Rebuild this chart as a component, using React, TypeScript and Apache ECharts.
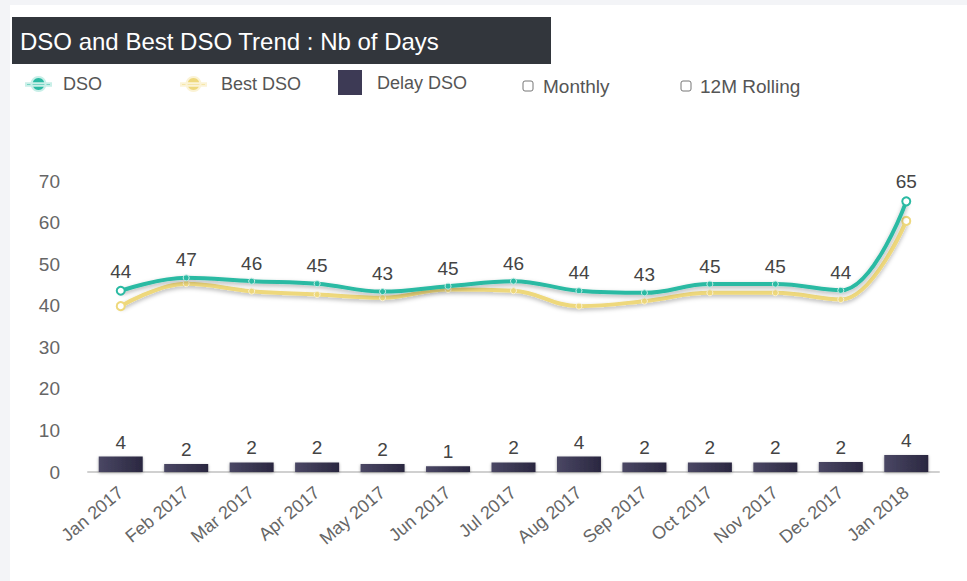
import React, { useEffect, useRef } from "react";
import * as echarts from "echarts";

const categories = [
  "Jan 2017", "Feb 2017", "Mar 2017", "Apr 2017", "May 2017", "Jun 2017", "Jul 2017",
  "Aug 2017", "Sep 2017", "Oct 2017", "Nov 2017", "Dec 2017", "Jan 2018",
];
const dso = [43.6, 46.7, 45.9, 45.3, 43.4, 44.7, 45.9, 43.6, 43.1, 45.2, 45.2, 43.7, 65.1];
const bestDso = [39.9, 45.3, 43.5, 42.7, 41.9, 43.9, 43.6, 39.9, 41.1, 43.1, 43.1, 41.5, 60.4];
const delayDso = [3.7, 1.9, 2.3, 2.3, 1.9, 1.4, 2.3, 3.7, 2.3, 2.3, 2.3, 2.4, 4.1];
const yTicks = { min: 0, max: 70, interval: 10 };

const FONT = "'Liberation Sans', Arial, sans-serif";
const TEAL = "#2bbaa3";
const YELLOW = "#eed87c";
const LINE_ICON = "path://M0,6.2 L25,6.2 L25,8.8 L0,8.8 Z M12.5,0 A7,7 0 1,1 12.49,0 Z";

function pointData(values: number[]) {
  return values.map((v, i) =>
    i === 0 || i === values.length - 1
      ? { value: v, symbol: "emptyCircle", symbolSize: 8 }
      : { value: v }
  );
}

export default function App() {
  const ref = useRef<HTMLDivElement>(null);
  useEffect(() => {
    if (!ref.current) return;
    const chart = echarts.init(ref.current, undefined, { renderer: "svg" });
    const legendText = { fontFamily: FONT, fontSize: 18, color: "#555" };
    chart.setOption({
      animation: false,
      backgroundColor: "#f3f4f7",
      textStyle: { fontFamily: FONT },
      graphic: [
        { type: "rect", z: -10, shape: { x: 10, y: 5, width: 957, height: 576 }, style: { fill: "#ffffff" } },
        { type: "rect", shape: { x: 12, y: 17, width: 539, height: 47 }, style: { fill: "#32363c" } },
        {
          type: "text", x: 20, y: 41,
          style: { text: "DSO and Best DSO Trend : Nb of Days", fill: "#ffffff", font: `24px ${FONT}`, verticalAlign: "middle" },
        },
        { type: "rect", shape: { x: 523, y: 81, width: 10, height: 10, r: 2 }, style: { fill: "#fff", stroke: "#777", lineWidth: 1 } },
        {
          type: "text", x: 543, y: 86,
          style: { text: "Monthly", fill: "#555", font: `19px ${FONT}`, verticalAlign: "middle" },
        },
        { type: "rect", shape: { x: 681, y: 81, width: 10, height: 10, r: 2 }, style: { fill: "#fff", stroke: "#777", lineWidth: 1 } },
        {
          type: "text", x: 700, y: 86,
          style: { text: "12M Rolling", fill: "#555", font: `19px ${FONT}`, verticalAlign: "middle" },
        },
      ],
      legend: [
        {
          data: [{ name: "DSO", icon: LINE_ICON }], left: 25, top: 75, padding: 0,
          itemWidth: 25, itemHeight: 14,
          itemStyle: { color: TEAL },
          textStyle: { ...legendText, padding: [0, 0, 0, 7] },
        },
        {
          data: [{ name: "Best DSO", icon: LINE_ICON }], left: 180, top: 75, padding: 0,
          itemWidth: 25, itemHeight: 14,
          itemStyle: { color: YELLOW },
          textStyle: { ...legendText, padding: [0, 0, 0, 10] },
        },
        {
          data: [{ name: "Delay DSO", icon: "rect" }], left: 338, top: 70, padding: 0,
          itemWidth: 24, itemHeight: 25,
          itemStyle: { color: "#3d3a55" },
          textStyle: { ...legendText, padding: [0, 0, 0, 10] },
        },
      ],
      grid: { left: 88, right: 28, top: 181, bottom: 109, containLabel: false },
      xAxis: {
        type: "category",
        data: categories,
        axisLine: { lineStyle: { color: "#d0d0d0", width: 2 } },
        axisTick: { show: false },
        axisLabel: { rotate: 40, fontSize: 18, color: "#666", margin: 18, interval: 0 },
      },
      yAxis: {
        type: "value",
        ...yTicks,
        axisLine: { show: false },
        axisTick: { show: false },
        splitLine: { show: false },
        axisLabel: { fontSize: 19, color: "#666", margin: 28 },
      },
      series: [
        {
          name: "DSO",
          type: "line",
          data: pointData(dso),
          smooth: 0.4,
          symbol: "circle",
          symbolSize: 6,
          z: 4,
          lineStyle: { color: TEAL, width: 4, shadowColor: "rgba(0,0,0,0.3)", shadowBlur: 4, shadowOffsetY: 2 },
          itemStyle: { color: TEAL, borderColor: "#c9efe8", borderWidth: 1 },
          label: {
            show: true, position: "top", distance: 5, fontSize: 19, color: "#444",
            formatter: (p: any) => String(Math.round(p.value)),
          },
        },
        {
          name: "Best DSO",
          type: "line",
          data: pointData(bestDso),
          smooth: 0.4,
          symbol: "circle",
          symbolSize: 6,
          z: 3,
          lineStyle: { color: YELLOW, width: 4, shadowColor: "rgba(0,0,0,0.3)", shadowBlur: 4, shadowOffsetY: 2 },
          itemStyle: { color: YELLOW, borderColor: "#fbf3d6", borderWidth: 1 },
        },
        {
          name: "Delay DSO",
          type: "bar",
          data: delayDso,
          barWidth: 44,
          itemStyle: {
            color: new echarts.graphic.LinearGradient(0, 0, 1, 0, [
              { offset: 0, color: "#4a4764" },
              { offset: 1, color: "#2a2740" },
            ]),
            shadowColor: "rgba(0,0,0,0.35)", shadowBlur: 3, shadowOffsetY: 1,
          },
          label: {
            show: true, position: "top", distance: 5, fontSize: 19, color: "#444",
            formatter: (p: any) => String(Math.round(p.value)),
          },
        },
      ],
    });
    return () => chart.dispose();
  }, []);
  return (
    <div style={{ position: "fixed", left: 0, top: 0, width: 967, height: 581 }}>
      <div ref={ref} style={{ width: 967, height: 581 }} />
    </div>
  );
}
